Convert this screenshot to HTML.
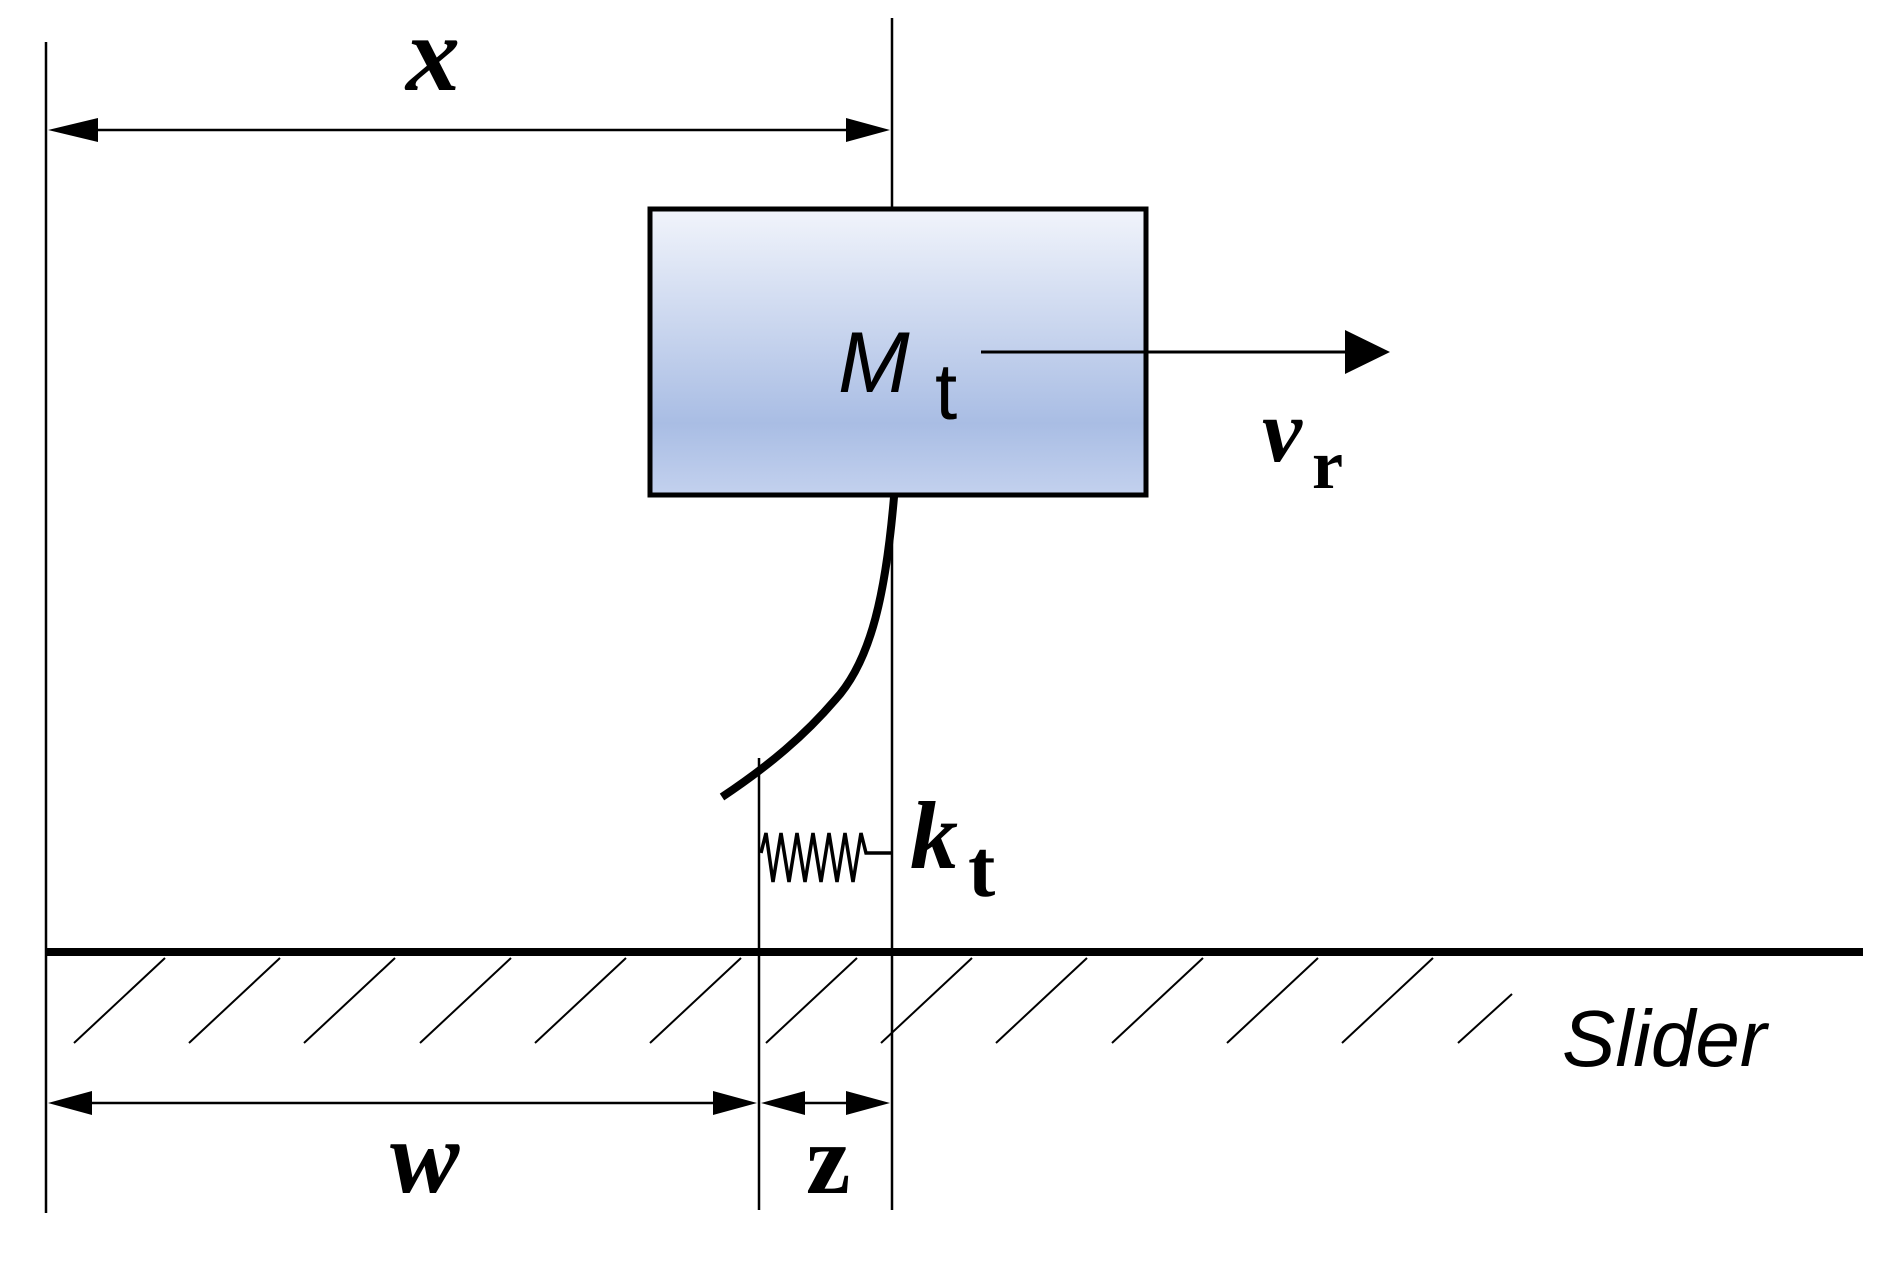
<!DOCTYPE html>
<html><head><meta charset="utf-8"><style>
html,body{margin:0;padding:0;background:#fff;}
svg{display:block;}
</style></head><body>
<svg width="1901" height="1261" viewBox="0 0 1901 1261" xmlns="http://www.w3.org/2000/svg">
<defs>
<linearGradient id="g" x1="0" y1="0" x2="0" y2="1">
<stop offset="0" stop-color="#f1f4fb"/>
<stop offset="0.75" stop-color="#a9bde4"/>
<stop offset="1" stop-color="#c3d1ee"/>
</linearGradient>
</defs>
<g stroke="#000" stroke-width="2.5" fill="none">
<line x1="46" y1="42" x2="46" y2="1213"/>
<line x1="892" y1="18" x2="892" y2="1210"/>
<line x1="759" y1="758" x2="759" y2="1210"/>
<line x1="60" y1="130" x2="880" y2="130"/>
<line x1="60" y1="1103" x2="745" y2="1103"/>
<line x1="770" y1="1103" x2="880" y2="1103"/>
</g>
<g fill="#000">
<polygon points="48,130 98,118 98,142"/>
<polygon points="890,130 846,118 846,142"/>
<polygon points="48,1103 92,1091 92,1115"/>
<polygon points="757,1103 713,1091 713,1115"/>
<polygon points="761,1103 805,1091 805,1115"/>
<polygon points="890,1103 846,1091 846,1115"/>
</g>
<rect x="650" y="209" width="496" height="286" fill="url(#g)" stroke="#000" stroke-width="5"/>
<line x1="981" y1="352" x2="1350" y2="352" stroke="#000" stroke-width="3"/>
<polygon points="1390,352 1345,330 1345,374" fill="#000"/>
<path d="M894,497 C 886,590 872,660 835,700 C 805,735 770,765 722,797" stroke="#000" stroke-width="8" fill="none"/>
<polyline points="761,853 766,833 773,882 781,833 789,882 797,833 805,882 813,833 821,882 829,833 837,882 845,833 853,882 861,833 866,853 892,853" stroke="#000" stroke-width="3.5" fill="none" stroke-linejoin="miter"/>
<line x1="46" y1="952" x2="1863" y2="952" stroke="#000" stroke-width="8"/>
<g stroke="#000" stroke-width="2">
<line x1="165" y1="958" x2="74" y2="1043"/>
<line x1="280" y1="958" x2="189" y2="1043"/>
<line x1="395" y1="958" x2="304" y2="1043"/>
<line x1="511" y1="958" x2="420" y2="1043"/>
<line x1="626" y1="958" x2="535" y2="1043"/>
<line x1="741" y1="958" x2="650" y2="1043"/>
<line x1="857" y1="958" x2="766" y2="1043"/>
<line x1="972" y1="958" x2="881" y2="1043"/>
<line x1="1087" y1="958" x2="996" y2="1043"/>
<line x1="1203" y1="958" x2="1112" y2="1043"/>
<line x1="1318" y1="958" x2="1227" y2="1043"/>
<line x1="1433" y1="958" x2="1342" y2="1043"/>
<line x1="1512" y1="994" x2="1458" y2="1043"/>
</g>
<g font-family="Liberation Serif, serif" font-weight="bold" font-style="italic" fill="#000">
<text x="406" y="90" font-size="108">x</text>
<text x="1262" y="461" font-size="90">v</text>
<text x="910" y="868" font-size="96">k</text>
<text x="390" y="1192" font-size="104">w</text>
</g>
<g font-family="Liberation Serif, serif" font-weight="bold" fill="#000">
<text x="1312" y="488" font-size="70">r</text>
<text x="968" y="896" font-size="82">t</text>
<text x="806" y="1193" font-size="100">z</text>
</g>
<text x="838" y="392" font-family="Liberation Sans, sans-serif" font-style="italic" font-size="86" fill="#000">M</text>
<text x="935" y="419" font-family="Liberation Sans, sans-serif" font-size="80" fill="#000">t</text>
<text x="1562" y="1066" font-family="Liberation Sans, sans-serif" font-style="italic" font-size="80" fill="#000">Slider</text>
</svg>
</body></html>
